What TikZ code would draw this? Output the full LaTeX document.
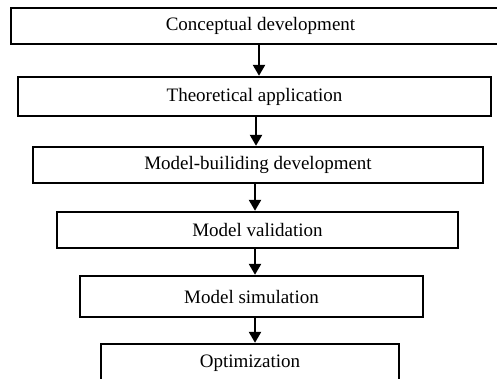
\documentclass[tikz,border=0pt]{standalone}
\usepackage{fontspec}
\setmainfont{Liberation Serif}
\usetikzlibrary{arrows.meta}
\begin{document}
\begin{tikzpicture}[x=1pt,y=-1pt,
  stagebox/.style={draw=black, line width=2.4pt, inner sep=0pt, font=\fontsize{19}{22}\selectfont},
  flowarrow/.style={line width=2.4pt, -{Triangle[width=12pt,length=11pt]}}]
\useasboundingbox (0,0) rectangle (497,379);
\clip (0,0) rectangle (497,379);
\node[stagebox, minimum width=499pt, minimum height=36pt] (n1) at (260.5,26) {Conceptual development};
\node[stagebox, minimum width=473pt, minimum height=39pt] (n2) at (254.5,96.5) {Theoretical application};
\node[stagebox, minimum width=450pt, minimum height=36pt] (n3) at (258,165) {Model-builiding development};
\node[stagebox, minimum width=401pt, minimum height=36pt] (n4) at (257.5,230) {Model validation};
\node[stagebox, minimum width=343pt, minimum height=41pt] (n5) at (251.5,296.5) {Model simulation};
\node[stagebox, minimum width=298pt, minimum height=38pt] (n6) at (250,363) {Optimization};
\coordinate (x1) at (259,0);
\coordinate (x2) at (256,0);
\coordinate (x3) at (255,0);
\draw[flowarrow] (n1.south -| x1) -- (n2.north -| x1);
\draw[flowarrow] (n2.south -| x2) -- (n3.north -| x2);
\draw[flowarrow] (n3.south -| x3) -- (n4.north -| x3);
\draw[flowarrow] (n4.south -| x3) -- (n5.north -| x3);
\draw[flowarrow] (n5.south -| x3) -- (n6.north -| x3);
\end{tikzpicture}
\end{document}
